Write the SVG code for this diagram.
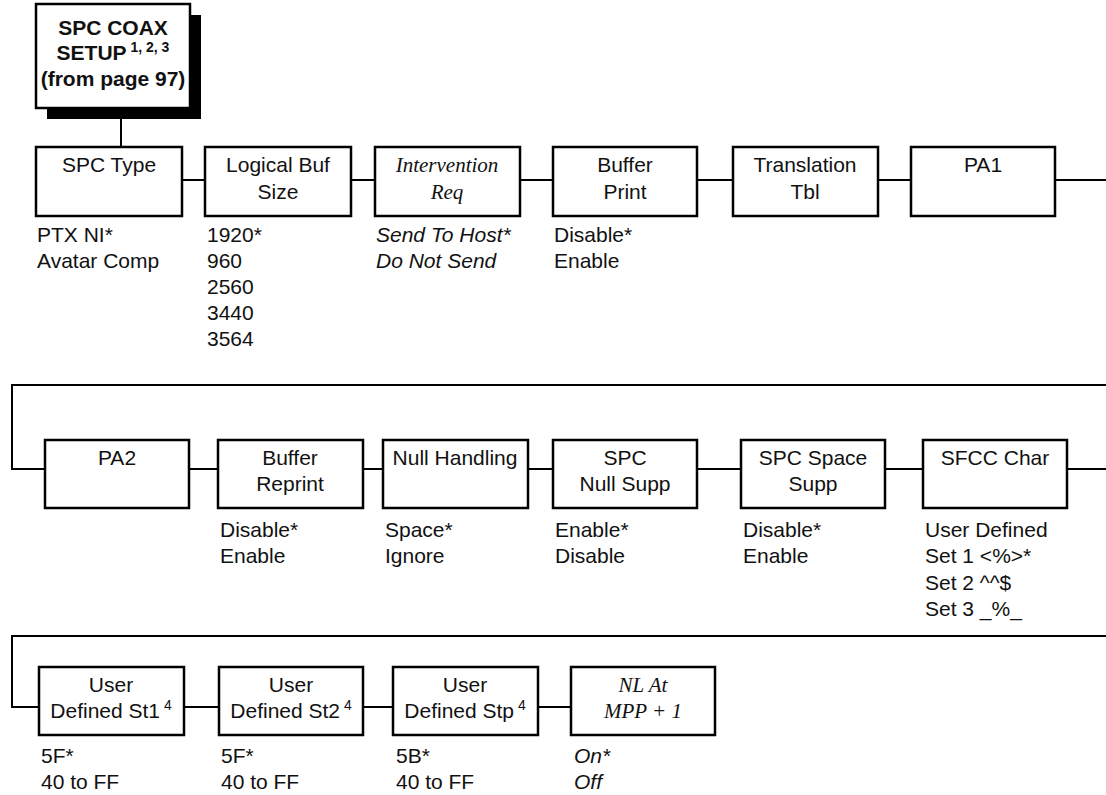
<svg xmlns="http://www.w3.org/2000/svg" width="1106" height="795" viewBox="0 0 1106 795">
<style>
.box{fill:#fff;stroke:#000;stroke-width:2.5}
.con{fill:none;stroke:#000;stroke-width:2}
.lbl{font-family:"Liberation Sans",Arial,sans-serif;font-size:21px;fill:#111;text-anchor:middle}
.ilbl{font-family:"Liberation Serif","Times New Roman",serif;font-style:italic;font-size:21px;fill:#111;text-anchor:middle}
.val{font-family:"Liberation Sans",Arial,sans-serif;font-size:21px;fill:#111}
.ival{font-family:"Liberation Sans",Arial,sans-serif;font-style:italic;font-size:21px;fill:#111}
.top{font-family:"Liberation Sans",Arial,sans-serif;font-weight:bold;font-size:21px;fill:#111;text-anchor:middle}
.sup{font-size:14px}
</style>
<g id="connectors">
<path class="con" d="M121 108V147"/>
<path class="con" d="M182 180H205M351 180H375M520 180H553M697 180H733M878 180H911M1055 180H1106"/>
<path class="con" d="M1106 385H12V469H45"/>
<path class="con" d="M189 469H218M363 469H383M528 469H553M697 469H741M885 469H923M1067 469H1106"/>
<path class="con" d="M1106 636H12V707H39"/>
<path class="con" d="M184 707H219M363 707H393M538 707H571"/>
</g>
<g id="n-top">
<rect x="47" y="15" width="154" height="104" fill="#000"/>
<rect class="box" x="36" y="4" width="154" height="104"/>
<text class="top" x="113" y="35">SPC COAX</text>
<text class="top" x="113" y="60">SETUP<tspan class="sup" dy="-8"> 1, 2, 3</tspan></text>
<text class="top" x="113" y="86">(from page 97)</text>
</g>
<g id="n-spctype">
<rect class="box" x="36" y="147" width="146" height="69"/>
<text class="lbl" x="109" y="172">SPC Type</text>
<text class="val" x="37" y="242">PTX NI*</text>
<text class="val" x="37" y="268">Avatar Comp</text>
</g>
<g id="n-logbuf">
<rect class="box" x="205" y="147" width="146" height="69"/>
<text class="lbl" x="278" y="172">Logical Buf</text>
<text class="lbl" x="278" y="199">Size</text>
<text class="val" x="207" y="242">1920*</text>
<text class="val" x="207" y="268">960</text>
<text class="val" x="207" y="294">2560</text>
<text class="val" x="207" y="320">3440</text>
<text class="val" x="207" y="346">3564</text>
</g>
<g id="n-intreq">
<rect class="box" x="375" y="147" width="145" height="69"/>
<text class="ilbl" x="447" y="172">Intervention</text>
<text class="ilbl" x="447" y="199">Req</text>
<text class="ival" x="376" y="242">Send To Host*</text>
<text class="ival" x="376" y="268">Do Not Send</text>
</g>
<g id="n-bufprint">
<rect class="box" x="553" y="147" width="144" height="69"/>
<text class="lbl" x="625" y="172">Buffer</text>
<text class="lbl" x="625" y="199">Print</text>
<text class="val" x="554" y="242">Disable*</text>
<text class="val" x="554" y="268">Enable</text>
</g>
<g id="n-transtbl">
<rect class="box" x="733" y="147" width="145" height="69"/>
<text class="lbl" x="805" y="172">Translation</text>
<text class="lbl" x="805" y="199">Tbl</text>
</g>
<g id="n-pa1">
<rect class="box" x="911" y="147" width="144" height="69"/>
<text class="lbl" x="983" y="172">PA1</text>
</g>
<g id="n-pa2">
<rect class="box" x="45" y="440" width="144" height="68"/>
<text class="lbl" x="117" y="465">PA2</text>
</g>
<g id="n-bufreprint">
<rect class="box" x="218" y="440" width="145" height="68"/>
<text class="lbl" x="290" y="465">Buffer</text>
<text class="lbl" x="290" y="491">Reprint</text>
<text class="val" x="220" y="537">Disable*</text>
<text class="val" x="220" y="563">Enable</text>
</g>
<g id="n-nullhandling">
<rect class="box" x="383" y="440" width="145" height="68"/>
<text class="lbl" x="455" y="465">Null Handling</text>
<text class="val" x="385" y="537">Space*</text>
<text class="val" x="385" y="563">Ignore</text>
</g>
<g id="n-spcnullsupp">
<rect class="box" x="553" y="440" width="144" height="68"/>
<text class="lbl" x="625" y="465">SPC</text>
<text class="lbl" x="625" y="491">Null Supp</text>
<text class="val" x="555" y="537">Enable*</text>
<text class="val" x="555" y="563">Disable</text>
</g>
<g id="n-spcspacesupp">
<rect class="box" x="741" y="440" width="144" height="68"/>
<text class="lbl" x="813" y="465">SPC Space</text>
<text class="lbl" x="813" y="491">Supp</text>
<text class="val" x="743" y="537">Disable*</text>
<text class="val" x="743" y="563">Enable</text>
</g>
<g id="n-sfccchar">
<rect class="box" x="923" y="440" width="144" height="68"/>
<text class="lbl" x="995" y="465">SFCC Char</text>
<text class="val" x="925" y="537">User Defined</text>
<text class="val" x="925" y="563">Set 1 &lt;%&gt;*</text>
<text class="val" x="925" y="590">Set 2 ^^$</text>
<text class="val" x="925" y="616">Set 3 _%_</text>
</g>
<g id="n-userst1">
<rect class="box" x="39" y="667" width="145" height="68"/>
<text class="lbl" x="111" y="692">User</text>
<text class="lbl" x="111" y="718">Defined St1<tspan class="sup" dy="-8"> 4</tspan></text>
<text class="val" x="41" y="763">5F*</text>
<text class="val" x="41" y="789">40 to FF</text>
</g>
<g id="n-userst2">
<rect class="box" x="219" y="667" width="144" height="68"/>
<text class="lbl" x="291" y="692">User</text>
<text class="lbl" x="291" y="718">Defined St2<tspan class="sup" dy="-8"> 4</tspan></text>
<text class="val" x="221" y="763">5F*</text>
<text class="val" x="221" y="789">40 to FF</text>
</g>
<g id="n-userstp">
<rect class="box" x="393" y="667" width="145" height="68"/>
<text class="lbl" x="465" y="692">User</text>
<text class="lbl" x="465" y="718">Defined Stp<tspan class="sup" dy="-8"> 4</tspan></text>
<text class="val" x="396" y="763">5B*</text>
<text class="val" x="396" y="789">40 to FF</text>
</g>
<g id="n-nlat">
<rect class="box" x="571" y="667" width="144" height="68"/>
<text class="ilbl" x="643" y="692">NL At</text>
<text class="ilbl" x="643" y="718">MPP + 1</text>
<text class="ival" x="574" y="763">On*</text>
<text class="ival" x="574" y="789">Off</text>
</g>
</svg>
